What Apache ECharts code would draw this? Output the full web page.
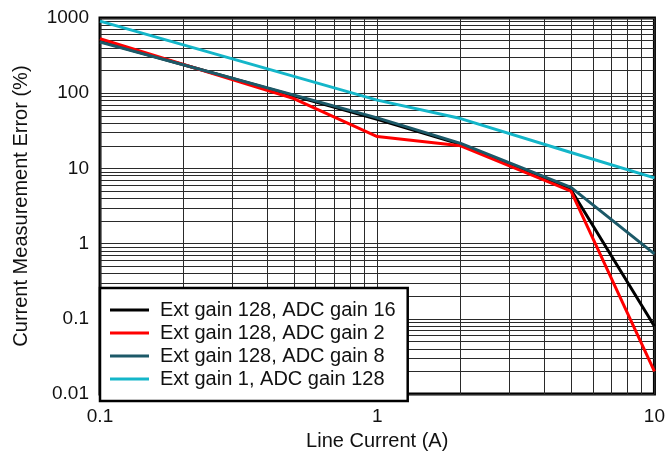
<!DOCTYPE html>
<html>
<head>
<meta charset="utf-8">
<script src="https://cdn.jsdelivr.net/npm/echarts@6/dist/echarts.min.js"></script>
<style>html,body{margin:0;padding:0;background:#fff}#c{width:668px;height:456px}</style>
</head>
<body>
<div id="c"></div>
<script>
// Series data (x = Line Current (A), y = Current Measurement Error (%))
const seriesNames = ['Ext gain 128, ADC gain 16', 'Ext gain 128, ADC gain 2', 'Ext gain 128, ADC gain 8', 'Ext gain 1, ADC gain 128'];
const xBlack = [0.1, 1, 2, 5, 10];
const yBlack = [490, 45, 21, 5.2, 0.08];
const xRed = [0.1, 0.5, 1, 2, 5, 10];
const yRed = [530, 85, 26.5, 20, 5, 0.02];
const xTeal = [0.1, 1, 2, 5, 10];
const yTeal = [480, 47, 21.5, 5.6, 0.73];
const xCyan = [0.1, 1, 2, 5, 10];
const yCyan = [910, 81, 46, 16.3, 7.5];
const seriesColors = ['#000000', '#ff0000', '#1c5968', '#14b6c9'];

// Axis ranges / grid definition
const xMin = 0.1, xMax = 10;
const yMin = 0.01, yMax = 1000;
const minorMults = [2, 3, 4, 5, 6, 7, 8, 9];
const xDecades = [0.1, 1];
const yDecades = [0.01, 0.1, 1, 10, 100];

const fix = v => parseFloat(v.toPrecision(6));
const xMinor = [];
xDecades.forEach(d => minorMults.forEach(m => xMinor.push(fix(d * m))));
const yMinor = [];
yDecades.forEach(d => minorMults.forEach(m => yMinor.push(fix(d * m))));

const pairs = (xs, ys) => xs.map((x, i) => [x, ys[i]]);
const allData = [pairs(xBlack, yBlack), pairs(xRed, yRed), pairs(xTeal, yTeal), pairs(xCyan, yCyan)];

const font = 'Liberation Sans, Arial, sans-serif';
const gridColor = '#2a2a2a';

const series = [{
  name: 'grid',
  type: 'line',
  data: [],
  z: 1,
  silent: true,
  markLine: {
    z: 1,
    silent: true,
    symbol: ['none', 'none'],
    label: { show: false },
    lineStyle: { color: gridColor, width: 1, type: 'solid' },
    emphasis: { disabled: true },
    animation: false,
    data: xMinor.map(v => ({ xAxis: v })).concat(yMinor.map(v => ({ yAxis: v })))
  }
}];
seriesNames.forEach((n, i) => {
  series.push({
    name: n,
    type: 'line',
    data: allData[i],
    symbol: 'none',
    z: 3,
    lineStyle: { color: seriesColors[i], width: 3 },
    itemStyle: { color: seriesColors[i] }
  });
});

const chart = echarts.init(document.getElementById('c'), null, { renderer: 'canvas' });
chart.setOption({
  animation: false,
  backgroundColor: '#fff',
  grid: {
    left: 100, right: 13, top: 18, bottom: 55,
    show: true, borderColor: '#000', borderWidth: 3, backgroundColor: 'transparent'
  },
  legend: {
    data: seriesNames,
    orient: 'vertical',
    left: 100,
    top: 288,
    z: 10,
    icon: 'rect',
    itemWidth: 39,
    itemHeight: 3,
    itemGap: 3,
    padding: [12, 12, 12, 10],
    backgroundColor: '#fff',
    borderColor: '#000',
    borderWidth: 2.5,
    borderRadius: 0,
    textStyle: { fontSize: 20, fontFamily: font, color: '#111', padding: [0, 0, 0, 6] },
    selectedMode: false
  },
  xAxis: {
    type: 'log', logBase: 10, min: xMin, max: xMax, interval: 1,
    name: 'Line Current (A)', nameLocation: 'middle', nameGap: 36,
    nameTextStyle: { fontSize: 20, fontFamily: font, color: '#111' },
    axisLine: { show: false },
    axisTick: { show: false },
    axisLabel: { fontSize: 19, fontFamily: font, color: '#111', margin: 13,
      formatter: v => String(parseFloat(v.toPrecision(6))) },
    splitLine: { show: true, lineStyle: { color: gridColor, width: 1 } }
  },
  yAxis: {
    type: 'log', logBase: 10, min: yMin, max: yMax, interval: 1,
    name: 'Current Measurement Error (%)', nameLocation: 'middle', nameGap: 69,
    nameTextStyle: { fontSize: 20, fontFamily: font, color: '#111' },
    axisLine: { show: false },
    axisTick: { show: false },
    axisLabel: { fontSize: 19, fontFamily: font, color: '#111', margin: 11,
      formatter: v => String(parseFloat(v.toPrecision(6))) },
    splitLine: { show: true, lineStyle: { color: gridColor, width: 1 } }
  },
  series: series
});
</script>
</body>
</html>
